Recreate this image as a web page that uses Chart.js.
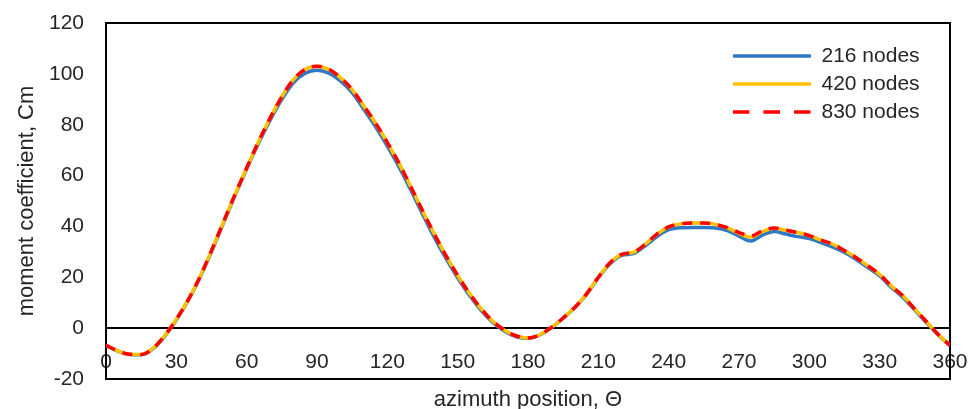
<!DOCTYPE html>
<html>
<head>
<meta charset="utf-8">
<script src="https://cdn.jsdelivr.net/npm/chart.js@4/dist/chart.umd.min.js"></script>
<style>
  html, body { margin: 0; padding: 0; background: #ffffff; }
  canvas { display: block; }
</style>
</head>
<body>
<canvas id="c" width="977" height="409"></canvas>
<script>
// ---- data ----
const theta = [0,5,10,15,20,25,30,35,40,45,50,55,60,65,70,75,80,85,90,95,100,105,110,115,120,125,130,135,140,145,150,155,160,165,170,175,180,185,190,195,200,205,210,215,220,225,230,235,240,245,250,255,260,265,270,275,280,285,290,295,300,305,310,315,320,325,330,335,340,345,350,355,360];

const nodes216 = [-6.8,-9.0,-10.4,-10.5,-8.2,-3.2,3.2,10.8,19.7,30.1,41.1,52.1,62.6,72.6,81.8,90.0,96.6,100.3,101.4,100.3,97.2,92.6,86.0,79.2,71.6,63.4,54.3,44.9,35.8,27.4,19.8,12.9,7.0,2.2,-1.2,-3.4,-4.0,-2.7,0.2,3.9,8.1,13.3,19.8,25.3,28.6,29.3,32.4,36.0,38.7,39.5,39.6,39.6,39.4,38.4,36.2,34.3,36.6,38.0,37.0,36.0,35.2,33.6,31.9,29.8,27.0,23.8,20.5,16.0,12.0,7.1,2.1,-2.7,-6.9];

const nodes420 = [-6.8,-8.9,-10.3,-10.4,-8.0,-3.0,3.5,11.0,20.0,30.5,41.5,52.5,63.0,73.2,82.6,91.0,97.8,101.8,103.0,101.8,98.5,93.8,87.3,80.6,73.0,64.8,55.6,46.2,37.1,28.5,20.7,13.7,7.7,2.7,-0.8,-3.1,-3.9,-2.6,0.3,4.0,8.2,13.5,20.0,25.7,29.0,29.8,33.0,37.0,39.8,41.0,41.3,41.3,40.8,39.4,37.3,35.8,38.0,39.3,38.5,37.6,36.4,34.6,33.0,30.5,27.7,24.5,21.1,16.6,12.6,7.5,2.5,-2.5,-6.8];

const nodes830 = [-6.8,-8.9,-10.3,-10.4,-8.0,-3.0,3.5,11.0,20.0,30.5,41.5,52.5,63.0,73.2,82.6,91.0,97.8,101.8,103.0,101.8,98.5,93.8,87.3,80.6,73.0,64.8,55.6,46.2,37.1,28.5,20.7,13.7,7.7,2.7,-0.8,-3.1,-3.9,-2.6,0.3,4.0,8.2,13.5,20.0,25.7,29.0,29.8,33.0,37.0,39.8,41.0,41.3,41.3,40.8,39.5,37.6,36.2,38.3,39.4,38.5,37.6,36.4,34.6,33.0,30.5,27.7,24.5,21.1,16.6,12.6,7.5,2.5,-2.5,-6.8];

const seriesNames = ['216 nodes', '420 nodes', '830 nodes'];
const xTicks = [0,30,60,90,120,150,180,210,240,270,300,330,360];
const yTicks = [-20,0,20,40,60,80,100,120];
const xTitle = 'azimuth position, \u0398';
const yTitle = 'moment coefficient, Cm';

// ---- chart ----
const FONT = 'Liberation Sans';
const TEXT = '#262626';
const pts = (ys) => theta.map((t, i) => ({x: t, y: ys[i]}));

const boxPlugin = {
  id: 'box',
  afterLayout(chart) {
    const lg = chart.legend;
    if (lg) {
      const pad = lg.options.labels.padding;
      lg.left = 733 - pad;
      lg.top = 45.5 - pad;
      lg.right = lg.left + 220;
      lg.bottom = lg.top + 200;
    }
  },
  beforeDatasetsDraw(chart) {
    const {ctx, chartArea: a} = chart;
    ctx.save();
    ctx.strokeStyle = '#000000';
    ctx.lineWidth = 2;
    ctx.strokeRect(a.left, a.top, a.right - a.left, a.bottom - a.top);
    ctx.restore();
  },
  afterDraw(chart) {
    const {ctx, chartArea: a} = chart;
    ctx.save();
    ctx.fillStyle = TEXT;
    ctx.font = '22px "' + FONT + '"';
    ctx.textAlign = 'center';
    ctx.textBaseline = 'alphabetic';
    ctx.fillText(xTitle, (a.left + a.right) / 2, a.bottom + 27);
    ctx.restore();
  }
};

new Chart(document.getElementById('c'), {
  type: 'line',
  data: {
    datasets: [
      {label: seriesNames[0], data: pts(nodes216), borderColor: '#2F78C4', backgroundColor: '#2F78C4',
       borderWidth: 3.5, pointRadius: 0, cubicInterpolationMode: 'monotone', order: 3},
      {label: seriesNames[1], data: pts(nodes420), borderColor: '#FFC000', backgroundColor: '#FFC000',
       borderWidth: 3.5, pointRadius: 0, cubicInterpolationMode: 'monotone', order: 2},
      {label: seriesNames[2], data: pts(nodes830), borderColor: '#FF0000', backgroundColor: '#FF0000',
       borderWidth: 3.5, borderDash: [10, 8], pointRadius: 0, cubicInterpolationMode: 'monotone', order: 1}
    ]
  },
  options: {
    responsive: false,
    animation: false,
    devicePixelRatio: 1,
    layout: {padding: {left: 0, top: 23, right: 27, bottom: 30}},
    plugins: {
      tooltip: {enabled: false},
      title: {display: false},
      legend: {
        display: true,
        position: 'chartArea',
        align: 'start',
        labels: {
          usePointStyle: true,
          pointStyle: 'line',
          pointStyleWidth: 78,
          padding: 7,
          color: TEXT,
          font: {family: FONT, size: 21},
          sort: (a, b) => a.datasetIndex - b.datasetIndex,
          generateLabels(chart) {
            const items = Chart.defaults.plugins.legend.labels.generateLabels(chart);
            items.forEach(it => {
              const ds = chart.data.datasets[it.datasetIndex];
              it.pointStyle = 'line';
              it.lineWidth = ds.borderWidth;
              it.strokeStyle = ds.borderColor;
              it.lineDash = ds.borderDash ? [16.5, 14] : [];
            });
            return items;
          }
        }
      }
    },
    scales: {
      x: {
        type: 'linear',
        min: 0, max: 360,
        position: {y: 0},
        afterBuildTicks(scale) { scale.ticks = xTicks.map(v => ({value: v})); },
        afterFit(scale) {
          scale.paddingLeft = 0; scale.paddingRight = 0;
          scale.paddingTop = 0; scale.paddingBottom = 0;
          scale.height = 0;
        },
        ticks: {autoSkip: false, maxRotation: 0, padding: 21, color: TEXT, font: {family: FONT, size: 21}},
        grid: {display: false, drawTicks: false},
        border: {display: true, color: '#000000', width: 2}
      },
      y: {
        type: 'linear',
        min: -20, max: 120,
        position: 'left',
        afterBuildTicks(scale) { scale.ticks = yTicks.map(v => ({value: v})); },
        afterFit(scale) {
          scale.width = 106;
          scale.paddingTop = 0; scale.paddingBottom = 0;
        },
        ticks: {padding: 22, color: TEXT, font: {family: FONT, size: 21}},
        grid: {display: false, drawTicks: false},
        border: {display: false},
        title: {display: true, text: yTitle, color: TEXT, font: {family: FONT, size: 22}, padding: {top: 14, bottom: 0}}
      }
    }
  },
  plugins: [boxPlugin]
});
</script>
</body>
</html>
